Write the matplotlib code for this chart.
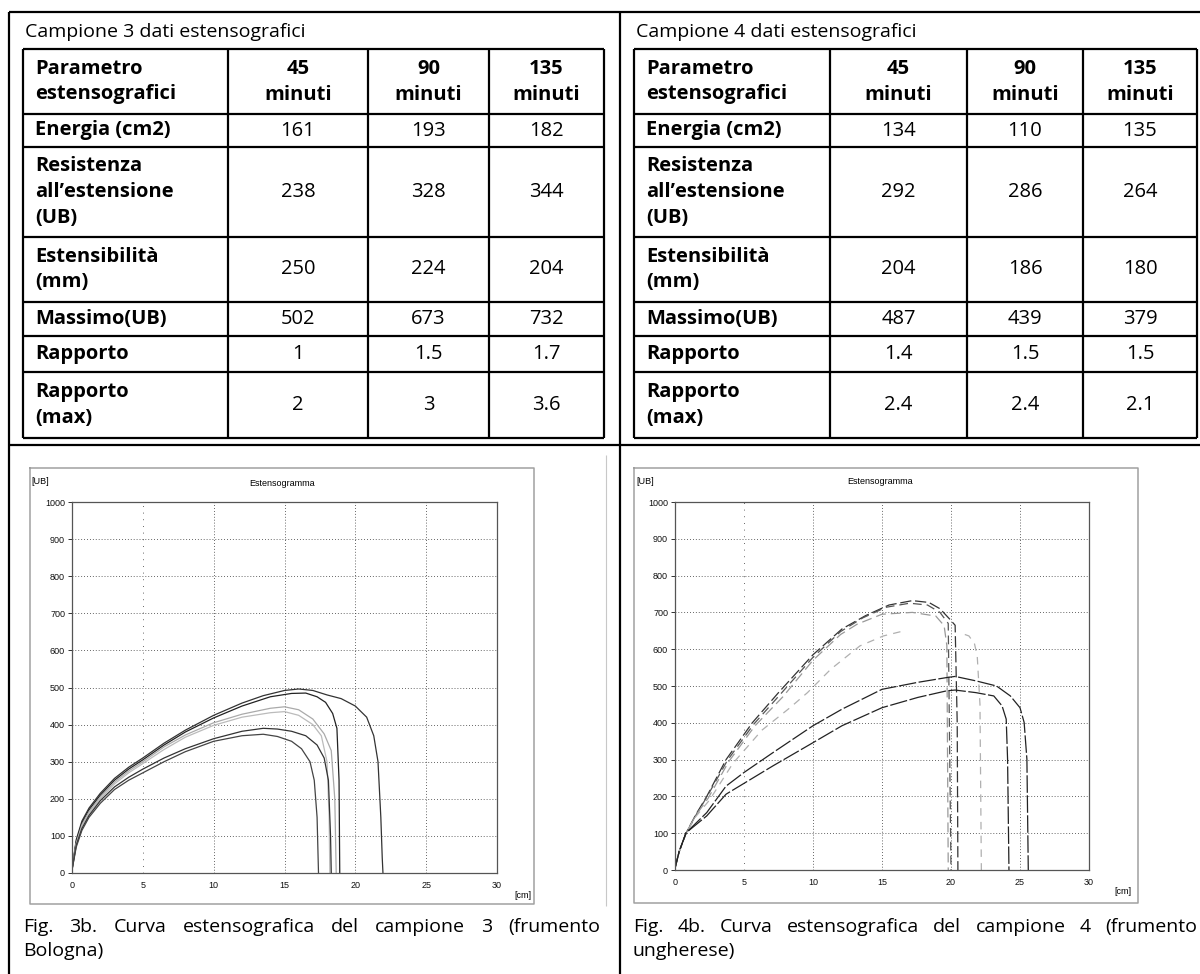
import matplotlib
matplotlib.use("Agg")
import matplotlib.pyplot as plt

W, H = 1200, 974
FONT = ["Open Sans", "DejaVu Sans"]
PLOT_FONT = ["Liberation Sans", "DejaVu Sans"]
NAN = float("nan")

# ---- tabelle ----
param_rows = [
    ["Parametro", "estensografici"],
    ["Energia (cm2)"],
    ["Resistenza", "all\u2019estensione", "(UB)"],
    ["Estensibilità", "(mm)"],
    ["Massimo(UB)"],
    ["Rapporto"],
    ["Rapporto", "(max)"],
]
time_cols = [["45", "minuti"], ["90", "minuti"], ["135", "minuti"]]
camp3_vals = [
    ["161", "193", "182"],
    ["238", "328", "344"],
    ["250", "224", "204"],
    ["502", "673", "732"],
    ["1", "1.5", "1.7"],
    ["2", "3", "3.6"],
]
camp4_vals = [
    ["134", "110", "135"],
    ["292", "286", "264"],
    ["204", "186", "180"],
    ["487", "439", "379"],
    ["1.4", "1.5", "1.5"],
    ["2.4", "2.4", "2.1"],
]

# ---- curve estensografiche (x in cm, y in UB) ----
c3_curves = [
    dict(x=[0, 0.3, 0.7, 1.2, 2, 3, 4, 5, 6.5, 8, 10, 12, 13.5, 15, 16, 17, 18, 19, 20, 20.8, 21.3, 21.6, 21.8, 21.9, 21.95],
         y=[10, 90, 140, 175, 215, 255, 285, 310, 350, 385, 425, 458, 478, 492, 496, 492, 480, 470, 450, 420, 370, 300, 150, 40, 0],
         color="#333333"),
    dict(x=[0, 0.3, 0.7, 1.2, 2, 3, 4, 5, 6.5, 8, 10, 12, 14, 15.5, 16.5, 17.3, 17.9, 18.4, 18.7, 18.85, 18.9],
         y=[10, 85, 135, 170, 210, 250, 280, 305, 345, 380, 418, 450, 475, 484, 485, 475, 460, 430, 390, 250, 0],
         color="#222222"),
    dict(x=[0, 0.3, 0.7, 1.2, 2, 3, 4, 5, 6.5, 8, 10, 12, 14, 15, 16, 17, 17.8, 18.3, 18.55, 18.65],
         y=[8, 80, 130, 165, 205, 245, 275, 300, 340, 372, 405, 428, 444, 448, 440, 415, 375, 330, 200, 0],
         color="#aaaaaa"),
    dict(x=[0, 0.3, 0.7, 1.2, 2, 3, 4, 5, 6.5, 8, 10, 12, 14, 15, 16, 17, 17.6, 18.0, 18.15, 18.2],
         y=[8, 78, 126, 160, 200, 240, 270, 295, 333, 366, 398, 420, 432, 435, 425, 400, 370, 300, 150, 0],
         color="#bbbbbb"),
    dict(x=[0, 0.3, 0.7, 1.2, 2, 3, 4, 5, 6.5, 8, 10, 12, 13.5, 14.5, 15.5, 16.5, 17.3, 17.8, 18.1, 18.25, 18.3],
         y=[8, 75, 120, 155, 195, 232, 258, 280, 310, 335, 362, 382, 390, 388, 382, 370, 345, 310, 250, 100, 0],
         color="#333333"),
    dict(x=[0, 0.3, 0.7, 1.2, 2, 3, 4, 5, 6.5, 8, 10, 12, 13.5, 14.5, 15.5, 16.2, 16.8, 17.1, 17.3, 17.4],
         y=[8, 70, 115, 150, 188, 225, 250, 270, 300, 327, 355, 370, 374, 368, 355, 335, 300, 250, 150, 0],
         color="#444444"),
]
c4_curves = [
    dict(x=[0, 0.3, 0.8, 1.5, 2.3, 3.7, 5.6, 7.5, 10, 12.1, 13.8, 15.5, 17.2, 18.4, 19.2, 19.9, 20.3, 20.45, 20.5],
         y=[5, 50, 100, 150, 200, 300, 400, 482, 585, 655, 691, 720, 732, 727, 710, 682, 665, 400, 0],
         color="#333333", dash=(0, (9, 3))),
    dict(x=[0, 0.3, 0.8, 1.5, 2.3, 3.8, 5.7, 7.6, 10, 12, 13.6, 15.3, 17, 18.3, 19.2, 19.8, 20.0],
         y=[5, 50, 100, 148, 198, 298, 396, 476, 578, 648, 685, 714, 725, 720, 700, 670, 0],
         color="#555555", dash=(0, (7, 4))),
    dict(x=[0, 0.3, 0.8, 1.5, 2.4, 3.9, 5.8, 7.8, 10, 12, 13.2, 15, 17.2, 18.9, 19.5, 19.7, 19.8],
         y=[5, 50, 100, 148, 195, 295, 392, 470, 570, 640, 668, 695, 700, 690, 664, 610, 0],
         color="#999999", dash=(0, (8, 4))),
    dict(x=[0, 0.3, 0.8, 1.5, 2.5, 4.2, 6.3, 8.3, 9.6, 11.3, 13.4, 15.1, 16.6, NAN, 21.0, 21.3, 21.7, 21.9, 22.1, 22.2],
         y=[5, 48, 100, 145, 190, 290, 380, 440, 482, 546, 609, 636, 650, NAN, 640, 636, 615, 582, 450, 0],
         color="#b0b0b0", dash=(0, (6, 5))),
    dict(x=[0, 0.3, 0.8, 2.3, 3.7, 5, 7.1, 10, 12.1, 15, 17.6, 19.7, 20.3, 21.8, 23.3, 24.3, 25, 25.3, 25.5, 25.6],
         y=[5, 50, 101, 156, 228, 265, 319, 392, 437, 491, 510, 523, 526, 514, 500, 473, 441, 401, 301, 0],
         color="#222222", dash=(0, (14, 2))),
    dict(x=[0, 0.3, 0.8, 2.3, 3.7, 7.1, 10, 12.1, 15, 17.6, 19.7, 20.3, 21.8, 23.1, 23.7, 24.0, 24.1, 24.2],
         y=[5, 50, 101, 147, 206, 283, 346, 392, 441, 469, 487, 489, 482, 473, 446, 410, 301, 0],
         color="#222222", dash=(0, (14, 2))),
]

fig = plt.figure(figsize=(W / 100, H / 100), dpi=100)
bg = fig.add_axes([0, 0, 1, 1])
bg.set_xlim(0, W)
bg.set_ylim(H, 0)
bg.axis("off")

LW = 1.6


def hline(y, x0, x1, **kw):
    bg.plot([x0, x1], [y, y], color=kw.pop("color", "k"), lw=kw.pop("lw", LW), solid_capstyle="butt", **kw)


def vline(x, y0, y1, **kw):
    bg.plot([x, x], [y0, y1], color=kw.pop("color", "k"), lw=kw.pop("lw", LW), solid_capstyle="butt", **kw)


# cornice esterna
hline(12, 9, W)
hline(445, 9, W)
vline(9, 12, H)
vline(620, 12, H)
vline(606, 455, 906, color="#c8c8c8", lw=0.8)

ROW_Y = [49, 114, 147, 237, 302, 336, 372, 438]
PITCH = 26
TSIZE = 14.5


def lines_text(x, yc, lines, ha, bold):
    n = len(lines)
    for i, s in enumerate(lines):
        bg.text(x, yc + (i - (n - 1) / 2) * PITCH, s, ha=ha, va="center",
                fontsize=TSIZE, family=FONT, fontweight="bold" if bold else "normal")


def draw_table(col_x, title, vals):
    bg.text(col_x[0] + 2, 32, title, ha="left", va="center", fontsize=14, family=FONT)
    for x in col_x:
        vline(x, ROW_Y[0], ROW_Y[-1])
    for y in ROW_Y:
        hline(y, col_x[0], col_x[-1])
    for r, lab in enumerate(param_rows):
        yc = (ROW_Y[r] + ROW_Y[r + 1]) / 2
        lines_text(col_x[0] + 12, yc, lab, "left", True)
        for c in range(3):
            xc = (col_x[c + 1] + col_x[c + 2]) / 2
            if r == 0:
                lines_text(xc, yc, time_cols[c], "center", True)
            else:
                lines_text(xc, yc, [vals[r - 1][c]], "center", False)


draw_table([23, 228, 368, 489, 604], "Campione 3 dati estensografici", camp3_vals)
draw_table([634, 830, 967, 1083, 1197], "Campione 4 dati estensografici", camp4_vals)


def justify(words, x0, x1, y):
    texts = [bg.text(0, y, w, ha="left", va="center", fontsize=14, family=FONT) for w in words]
    r = fig.canvas.get_renderer()
    widths = [t.get_window_extent(r).width for t in texts]
    gap = (x1 - x0 - sum(widths)) / (len(words) - 1)
    x = x0
    for t, w in zip(texts, widths):
        t.set_x(x)
        x += w + gap


justify("Fig. 3b. Curva estensografica del campione 3 (frumento".split(), 23, 600, 927)
bg.text(23, 951, "Bologna)", ha="left", va="center", fontsize=14, family=FONT)
justify("Fig. 4b. Curva estensografica del campione 4 (frumento".split(), 633, 1197, 927)
bg.text(633, 951, "ungherese)", ha="left", va="center", fontsize=14, family=FONT)


def px_rect(x0, x1, y0, y1):
    return [x0 / W, 1 - y1 / H, (x1 - x0) / W, (y1 - y0) / H]


def draw_chart(frame, plot, curves, ub_xy, title_xy, cm_xy):
    fx0, fx1, fy0, fy1 = frame
    bg.plot([fx0, fx1, fx1, fx0, fx0], [fy0, fy0, fy1, fy1, fy0], color="#a0a0a0", lw=1.1)
    bg.text(*ub_xy, "[UB]", fontsize=6.5, family=PLOT_FONT, ha="left", va="center")
    bg.text(*title_xy, "Estensogramma", fontsize=6.5, family=PLOT_FONT, ha="center", va="center")
    bg.text(*cm_xy, "[cm]", fontsize=6.5, family=PLOT_FONT, ha="left", va="center")

    a = fig.add_axes(px_rect(*plot))
    a.set_xlim(0, 30)
    a.set_ylim(0, 1000)
    xt = list(range(0, 31, 5))
    a.set_xticks(xt)
    a.set_yticks(range(0, 1001, 100))
    a.grid(True, axis="y", color="#333333", lw=0.6, ls=(0, (1, 2.5)))
    for v in xt[1:-1]:
        # la prima griglia verticale è più rada nella scansione
        a.axvline(v, color="#333333", lw=0.6, ls=(0, (1, 7)) if v == 5 else (0, (1, 2.5)))
    for s in a.spines.values():
        s.set_color("#555555")
        s.set_linewidth(0.9)
    a.tick_params(axis="y", length=3, width=0.6, pad=2, labelsize=6.5, colors="#111111")
    a.tick_params(axis="x", length=0, pad=6, labelsize=6.5, colors="#111111")
    for lab in a.get_xticklabels() + a.get_yticklabels():
        lab.set_family(PLOT_FONT)
    for c in curves:
        a.plot(c["x"], c["y"], color=c["color"], lw=0.9, ls=c.get("dash", "-"))


draw_chart((30, 534, 468, 904), (72, 497, 502, 873), c3_curves,
           (31, 482), (282, 483), (514, 895))
draw_chart((634, 1138, 468, 903), (675, 1089, 502, 870), c4_curves,
           (636, 481), (880, 482), (1114, 892))

fig.savefig("out.png", dpi=100)
